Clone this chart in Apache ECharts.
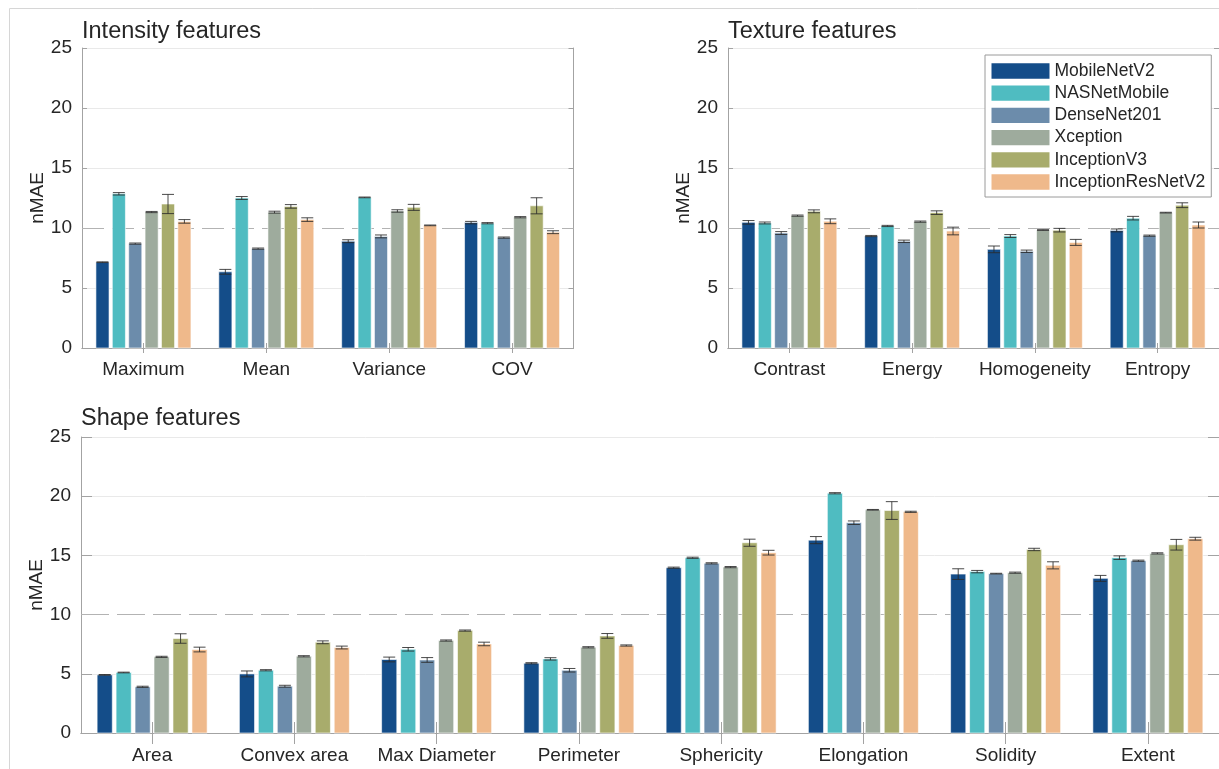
<!DOCTYPE html>
<html>
<head>
<meta charset="utf-8">
<title>nMAE by feature group</title>
<script src="https://cdn.jsdelivr.net/npm/echarts@6/dist/echarts.min.js"></script>
<style>
html, body { margin: 0; padding: 0; background: #fff; }
#chart { width: 1219px; height: 769px; }
</style>
</head>
<body>
<div id="chart"></div>
<script>
// categories
const intensityCats = ['Maximum', 'Mean', 'Variance', 'COV'];
const textureCats = ['Contrast', 'Energy', 'Homogeneity', 'Entropy'];
const shapeCats = ['Area', 'Convex area', 'Max Diameter', 'Perimeter', 'Sphericity', 'Elongation', 'Solidity', 'Extent'];

const models = ['MobileNetV2', 'NASNetMobile', 'DenseNet201', 'Xception', 'InceptionV3', 'InceptionResNetV2'];
const colors = ['#144d89', '#4fbcc1', '#6c8cab', '#9eab9d', '#a8ac6c', '#efb98b'];

// mean nMAE, one row per model
const intensityMean = [
  [7.15, 6.35, 8.9, 10.45],
  [12.85, 12.5, 12.55, 10.4],
  [8.7, 8.28, 9.3, 9.2],
  [11.33, 11.32, 11.42, 10.9],
  [12.0, 11.8, 11.72, 11.85],
  [10.55, 10.7, 10.22, 9.65]
];
const intensityErr = [
  [0.03, 0.2, 0.12, 0.1],
  [0.1, 0.12, 0.03, 0.05],
  [0.05, 0.05, 0.12, 0.05],
  [0.05, 0.08, 0.1, 0.05],
  [0.8, 0.15, 0.25, 0.67],
  [0.15, 0.15, 0.03, 0.12]
];

const textureMean = [
  [10.47, 9.33, 8.22, 9.8],
  [10.42, 10.17, 9.33, 10.82],
  [9.58, 8.89, 8.06, 9.36],
  [11.03, 10.53, 9.83, 11.28],
  [11.39, 11.28, 9.82, 11.9],
  [10.56, 9.75, 8.8, 10.25]
];
const textureErr = [
  [0.15, 0.05, 0.28, 0.12],
  [0.08, 0.05, 0.12, 0.15],
  [0.12, 0.1, 0.1, 0.05],
  [0.05, 0.05, 0.03, 0.03],
  [0.12, 0.15, 0.15, 0.2],
  [0.2, 0.32, 0.25, 0.25]
];

const shapeMean = [
  [4.91, 4.99, 6.21, 5.89, 13.96, 16.29, 13.42, 13.06],
  [5.11, 5.3, 7.07, 6.26, 14.8, 20.25, 13.63, 14.81],
  [3.9, 3.95, 6.17, 5.3, 14.33, 17.76, 13.46, 14.55],
  [6.43, 6.48, 7.81, 7.24, 14.01, 18.85, 13.54, 15.17],
  [7.98, 7.66, 8.65, 8.2, 16.07, 18.79, 15.5, 15.9],
  [7.05, 7.22, 7.52, 7.39, 15.23, 18.68, 14.16, 16.41]
];
const shapeErr = [
  [0.03, 0.25, 0.2, 0.05, 0.05, 0.3, 0.45, 0.25],
  [0.03, 0.05, 0.15, 0.1, 0.05, 0.05, 0.1, 0.15],
  [0.05, 0.08, 0.2, 0.15, 0.05, 0.15, 0.03, 0.05],
  [0.05, 0.05, 0.05, 0.05, 0.05, 0.03, 0.05, 0.05],
  [0.4, 0.12, 0.05, 0.2, 0.3, 0.75, 0.1, 0.45],
  [0.2, 0.12, 0.15, 0.05, 0.2, 0.05, 0.3, 0.12]
];

const yTicks = [0, 5, 10, 15, 20, 25];
const refLevel = 10;

const font = "'Liberation Sans', Arial, sans-serif";
const textColor = '#262626';
const boxColor = '#a3a3a3';

let panels = [
  { title: 'Intensity features', cats: intensityCats, mean: intensityMean, err: intensityErr,
    grid: { left: 82, top: 48, width: 491.5, height: 300 }, tick: 5, dash: [22, 8], titleTop: 20 },
  { title: 'Texture features', cats: textureCats, mean: textureMean, err: textureErr,
    grid: { left: 728, top: 48, width: 495, height: 300 }, tick: 5, dash: [22, 8], titleTop: 20 },
  { title: 'Shape features', cats: shapeCats, mean: shapeMean, err: shapeErr,
    grid: { left: 81, top: 437, width: 1142, height: 296 }, tick: 11, dash: [28, 8], titleTop: 407 }
];

// grouped bar with error bar, laid out like matlab bar(): 6 bars in 0.8 of the band
function renderBar(k) {
  return function (params, api) {
    let cat = api.value(0), v = api.value(1), e = api.value(2);
    let base = api.coord([cat, 0]);
    let band = api.size([1, 0])[0];
    let pitch = band * 0.8 / models.length;
    let w = pitch * 0.8;
    let xc = base[0] + (k - (models.length - 1) / 2) * pitch;
    let top = api.coord([cat, v])[1];
    let hi = api.coord([cat, v + e])[1];
    let lo = api.coord([cat, v - e])[1];
    let cap = 6;
    let es = { stroke: '#2a2a2a', lineWidth: 1, opacity: 0.85 };
    return {
      type: 'group',
      children: [
        { type: 'rect', shape: { x: xc - w / 2, y: top, width: w, height: base[1] - top },
          style: { fill: colors[k], stroke: 'rgba(255,255,255,0.6)', lineWidth: 1 } },
        { type: 'line', shape: { x1: xc, y1: hi, x2: xc, y2: lo }, style: es },
        { type: 'line', shape: { x1: xc - cap, y1: hi, x2: xc + cap, y2: hi }, style: es },
        { type: 'line', shape: { x1: xc - cap, y1: lo, x2: xc + cap, y2: lo }, style: es }
      ]
    };
  };
}

let grids = [], xAxes = [], yAxes = [], series = [], titles = [];

panels.forEach(function (p, g) {
  let bottomRow = g === 2;
  grids.push(p.grid);
  titles.push({
    text: p.title,
    left: p.grid.left,
    top: p.titleTop,
    padding: 0,
    textStyle: { fontFamily: font, fontSize: 23.5, fontWeight: 'normal', color: textColor }
  });
  // bottom axis with labels
  xAxes.push({
    type: 'category', gridIndex: g, data: p.cats, position: 'bottom',
    axisLine: { show: true, lineStyle: { color: boxColor } },
    axisTick: { show: true, inside: true, alignWithLabel: true, length: p.tick, lineStyle: { color: boxColor } },
    axisLabel: { interval: 0, margin: bottomRow ? 13 : 12, fontFamily: font, fontSize: 19, color: textColor },
    splitLine: { show: false }
  });
  // top edge of the box
  xAxes.push({
    type: 'category', gridIndex: g, data: p.cats, position: 'top',
    axisLine: { show: true, lineStyle: { color: boxColor } },
    axisTick: { show: true, inside: true, alignWithLabel: true, length: p.tick, lineStyle: { color: boxColor } },
    axisLabel: { show: false },
    splitLine: { show: false }
  });
  yAxes.push({
    type: 'value', gridIndex: g, min: yTicks[0], max: yTicks[yTicks.length - 1], interval: 5,
    name: 'nMAE', nameLocation: 'middle', nameGap: 35, nameMoveOverlap: false,
    nameTextStyle: { fontFamily: font, fontSize: 19, color: textColor },
    axisLine: { show: true, lineStyle: { color: boxColor } },
    axisTick: { show: true, inside: true, length: p.tick, lineStyle: { color: boxColor } },
    axisLabel: { margin: 10, fontFamily: font, fontSize: 19, color: textColor },
    splitLine: { show: true, lineStyle: { color: ['#e9e9e9', '#e9e9e9', 'rgba(0,0,0,0)', '#e9e9e9', '#e9e9e9', '#e9e9e9'], width: 1 } }
  });
  yAxes.push({
    type: 'value', gridIndex: g, position: 'right', min: yTicks[0], max: yTicks[yTicks.length - 1], interval: 5,
    axisLine: { show: true, lineStyle: { color: boxColor } },
    axisTick: { show: true, inside: true, length: p.tick, lineStyle: { color: boxColor } },
    axisLabel: { show: false },
    splitLine: { show: false }
  });

  models.forEach(function (m, k) {
    let s = {
      type: 'custom',
      name: m,
      xAxisIndex: 2 * g,
      yAxisIndex: 2 * g,
      itemStyle: { color: colors[k] },
      encode: { x: 0, y: 1 },
      renderItem: renderBar(k),
      data: p.cats.map(function (c, j) { return [j, p.mean[k][j], p.err[k][j]]; })
    };
    if (k === 0) {
      s.markLine = {
        silent: true, symbol: 'none', z: 1,
        label: { show: false },
        lineStyle: { color: '#b3b3b3', type: p.dash, width: 1.2 },
        data: [{ yAxis: refLevel }]
      };
    }
    series.push(s);
  });
});

let chart = echarts.init(document.getElementById('chart'), null, { renderer: 'canvas' });
chart.setOption({
  backgroundColor: '#fff',
  animation: false,
  title: titles,
  grid: grids,
  xAxis: xAxes,
  yAxis: yAxes,
  legend: {
    data: models.map(function (m) { return { name: m, icon: 'rect' }; }),
    orient: 'vertical',
    left: 985, top: 55,
    itemWidth: 58, itemHeight: 15.3, itemGap: 4.2,
    padding: [7, 6, 6, 6.5],
    backgroundColor: '#fff',
    borderColor: '#9a9a9a', borderWidth: 1,
    textStyle: { fontFamily: font, fontSize: 17.5, color: textColor, lineHeight: 15.3 }
  },
  graphic: [{
    type: 'rect', silent: true,
    shape: { x: 9.5, y: 8.5, width: 1300, height: 800 },
    style: { fill: 'none', stroke: '#d6d6d6', lineWidth: 1 }
  }],
  series: series
});
</script>
</body>
</html>
